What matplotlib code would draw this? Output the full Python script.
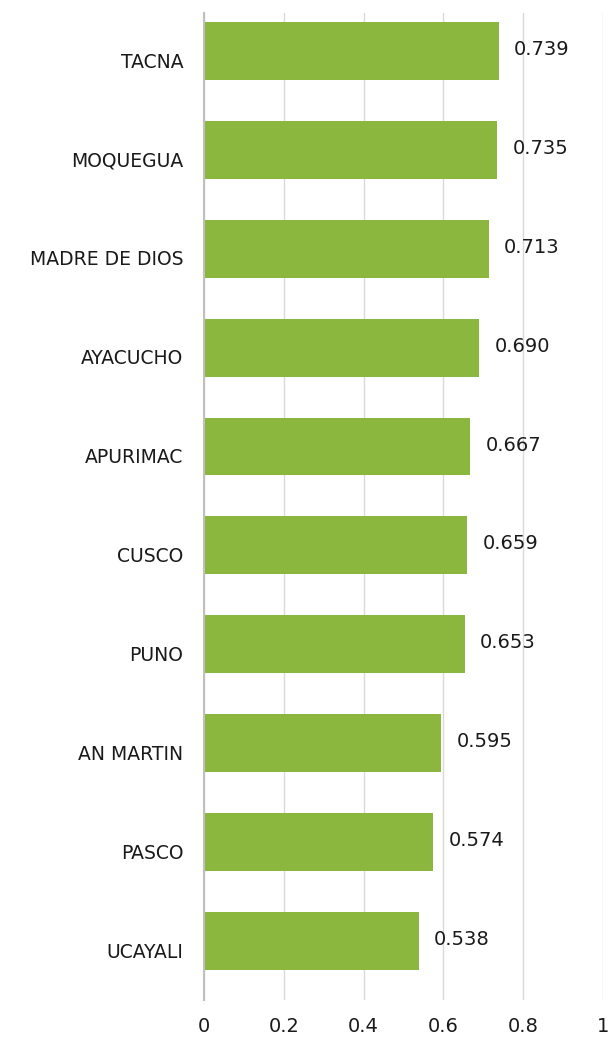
import matplotlib.pyplot as plt

# regiones e indice (de arriba hacia abajo)
regiones = ['TACNA', 'MOQUEGUA', 'MADRE DE DIOS', 'AYACUCHO', 'APURIMAC',
            'CUSCO', 'PUNO', 'AN MARTIN', 'PASCO', 'UCAYALI']
valores = [0.739, 0.735, 0.713, 0.690, 0.667, 0.659, 0.653, 0.595, 0.574, 0.538]
xticks = [0, 0.2, 0.4, 0.6, 0.8, 1]
xtick_labels = ['0', '0.2', '0.4', '0.6', '0.8', '1']

plt.rcParams['font.family'] = ['DejaVu Sans']

fig = plt.figure(figsize=(6.11, 10.37), dpi=100)
ax = fig.add_axes([0.334, 0.0357, 0.653, 0.9518])

y = list(range(len(regiones)))[::-1]
ax.barh(y, valores, height=0.586, color='#8BB73F', zorder=3)

for yi, v in zip(y, valores):
    ax.annotate(f'{v:.3f}', (v, yi), xytext=(11, 1), textcoords='offset points',
                ha='left', va='center', fontsize=14, color='#1a1a1a')
    
# etiquetas de region un poco por debajo del centro de la barra
for yi, r in zip(y, regiones):
    ax.annotate(r, (0, yi), xytext=(-15, -8), textcoords='offset points',
                ha='right', va='center', fontsize=13.5, color='#1a1a1a',
                annotation_clip=False)

ax.set_xlim(0, 1)
ax.set_ylim(-0.597, len(regiones) - 1 + 0.384)
ax.set_xticks(xticks)
ax.set_xticklabels(xtick_labels, fontsize=14, color='#1a1a1a')
ax.set_yticks([])

ax.tick_params(axis='both', length=0)
ax.tick_params(axis='x', pad=12)
ax.grid(axis='x', color='#D9D9D9', linewidth=1, zorder=0)
for s in ['top', 'right', 'bottom']:
    ax.spines[s].set_visible(False)
ax.spines['left'].set_color('#BFBFBF')
ax.spines['left'].set_linewidth(1.5)
ax.spines['left'].set_zorder(4)

fig.savefig('out.png', dpi=100)
